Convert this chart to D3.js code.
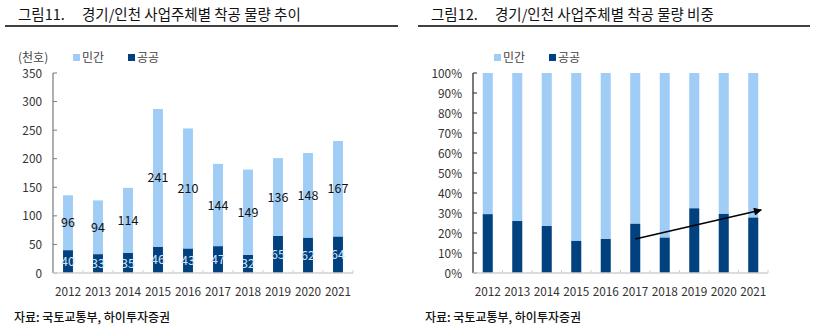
<!DOCTYPE html>
<html>
<head>
<meta charset="utf-8">
<script src="https://d3js.org/d3.v7.min.js"></script>
<style>
  body { margin: 0; background: #fff; }
  svg { font-family: "Noto Sans CJK KR", "Noto Sans", sans-serif; }
  .title { font-size: 14.5px; fill: #111; }
  .tick-label { font-size: 11.8px; fill: #333; }
  .legend { font-size: 12px; fill: #444; }
  .source { font-size: 12px; fill: #111; font-weight: 500; }
  .val { font-size: 12.5px; }
</style>
</head>
<body>
<svg id="chart" width="813" height="329"></svg>
<script>
// 경기/인천 착공 물량 (천호)
const years = ['2012','2013','2014','2015','2016','2017','2018','2019','2020','2021'];
const privateVals = [96, 94, 114, 241, 210, 144, 149, 136, 148, 167]; // 민간
const publicVals  = [40, 33, 35, 46, 43, 47, 32, 65, 62, 64];         // 공공
const volumeTicks = [0, 50, 100, 150, 200, 250, 300, 350];
const shareTicks  = d3.range(0, 1.01, 0.1);
// 공공 비중 추세 화살표 (연도, 비중)
const trendFrom = ['2017', 0.17];
const trendTo   = ['2021', 0.315];

const colPrivate = '#9fcdf6';
const colPublic  = '#02417f';

const svg = d3.select('#chart');

const rows = years.map((y, i) => ({
  year: y, pub: publicVals[i], priv: privateVals[i], total: publicVals[i] + privateVals[i]
}));

function header(x0, x1, label, text) {
  svg.append('text').attr('class', 'title').attr('x', x0 + 13).attr('y', 20).text(label);
  svg.append('text').attr('class', 'title').attr('x', x0 + 77).attr('y', 20).text(text);
  svg.append('line').attr('x1', x0).attr('x2', x1).attr('y1', 26).attr('y2', 26)
    .attr('stroke', '#000').attr('stroke-width', 1.6);
}

function legend(x, y) {
  const items = [['민간', colPrivate], ['공공', colPublic]];
  items.forEach((d, i) => {
    const gx = x + i * 55;
    svg.append('rect').attr('x', gx).attr('y', y - 8).attr('width', 7).attr('height', 7).attr('fill', d[1]);
    svg.append('text').attr('class', 'legend').attr('x', gx + 9).attr('y', y).text(d[0]);
  });
}

function xAxis(g, x, y0) {
  const [a, b] = x.range();
  g.append('line').attr('x1', a).attr('x2', b).attr('y1', y0).attr('y2', y0)
    .attr('stroke', '#d0d0d0').attr('stroke-width', 1.5);
  years.forEach((yr, i) => {
    if (i === 0) return;
    const tx = x(yr) - x.step() * x.paddingInner() / 2;
    g.append('line').attr('x1', tx).attr('x2', tx).attr('y1', y0).attr('y2', y0 - 3)
      .attr('stroke', '#d0d0d0');
  });
  g.append('line').attr('x1', b).attr('x2', b).attr('y1', y0).attr('y2', y0 - 3).attr('stroke', '#d0d0d0');
  g.selectAll('.xl').data(years).enter().append('text')
    .attr('class', 'tick-label')
    .attr('x', d => x(d) + x.bandwidth() / 2)
    .attr('y', y0 + 23)
    .attr('text-anchor', 'middle')
    .text(d => d);
}

function yAxis(g, y, x0, ticks, fmt, color) {
  const [b, t] = y.range();
  g.append('line').attr('x1', x0).attr('x2', x0).attr('y1', b).attr('y2', t)
    .attr('stroke', color).attr('stroke-width', 1.2);
  ticks.forEach(v => {
    g.append('line').attr('x1', x0).attr('x2', x0 + 4).attr('y1', y(v)).attr('y2', y(v))
      .attr('stroke', color);
    g.append('text').attr('class', 'tick-label')
      .attr('x', x0 - 11).attr('y', y(v) + 4.5)
      .attr('text-anchor', 'end').text(fmt(v));
  });
}

// ---------- 그림11: 착공 물량 추이 ----------
header(5, 398, '그림11.', '경기/인천 사업주체별 착공 물량 추이');
{
  const g = svg.append('g');
  const x = d3.scaleBand().domain(years).range([53, 353]).paddingInner(0.67).paddingOuter(0.335);
  const y = d3.scaleLinear().domain([0, 350]).range([273, 73]);

  svg.append('text').attr('class', 'legend').attr('x', 18).attr('y', 62).text('(천호)');
  legend(73, 62);

  yAxis(g, y, 53, volumeTicks, d3.format('d'), '#7a7a7a');

  g.selectAll('.pub').data(rows).enter().append('rect')
    .attr('x', d => x(d.year)).attr('width', x.bandwidth())
    .attr('y', d => y(d.pub)).attr('height', d => y(0) - y(d.pub))
    .attr('fill', colPublic);
  g.selectAll('.priv').data(rows).enter().append('rect')
    .attr('x', d => x(d.year)).attr('width', x.bandwidth())
    .attr('y', d => y(d.total)).attr('height', d => y(d.pub) - y(d.total))
    .attr('fill', colPrivate);

  xAxis(g, x, 273);

  g.selectAll('.lp').data(rows).enter().append('text')
    .attr('class', 'val')
    .attr('x', d => x(d.year) + x.bandwidth() / 2)
    .attr('y', d => (y(d.pub) + y(d.total)) / 2 + 4.5)
    .attr('text-anchor', 'middle').attr('fill', '#111')
    .text(d => d.priv);
  g.selectAll('.lb').data(rows).enter().append('text')
    .attr('class', 'val')
    .attr('x', d => x(d.year) + x.bandwidth() / 2)
    .attr('y', d => (y(0) + y(d.pub)) / 2 + 4.5)
    .attr('text-anchor', 'middle').attr('fill', '#cfe4f7')
    .text(d => d.pub);

  svg.append('text').attr('class', 'source').attr('x', 14).attr('y', 322).text('자료: 국토교통부, 하이투자증권');
}

// ---------- 그림12: 착공 물량 비중 ----------
header(418, 810, '그림12.', '경기/인천 사업주체별 착공 물량 비중');
{
  const g = svg.append('g');
  const x = d3.scaleBand().domain(years).range([473, 768]).paddingInner(0.66).paddingOuter(0.33);
  const y = d3.scaleLinear().domain([0, 1]).range([273, 73]);

  legend(494, 62);

  yAxis(g, y, 473, shareTicks, d3.format('.0%'), '#222');

  g.selectAll('.priv').data(rows).enter().append('rect')
    .attr('x', d => x(d.year)).attr('width', x.bandwidth())
    .attr('y', y(1)).attr('height', d => y(d.pub / d.total) - y(1))
    .attr('fill', colPrivate);
  g.selectAll('.pub').data(rows).enter().append('rect')
    .attr('x', d => x(d.year)).attr('width', x.bandwidth())
    .attr('y', d => y(d.pub / d.total)).attr('height', d => y(0) - y(d.pub / d.total))
    .attr('fill', colPublic);

  xAxis(g, x, 273);

  svg.append('defs').append('marker')
    .attr('id', 'arrow').attr('viewBox', '0 0 10 10').attr('refX', 9).attr('refY', 5)
    .attr('markerWidth', 10).attr('markerHeight', 8).attr('orient', 'auto')
    .attr('markerUnits', 'userSpaceOnUse')
    .append('path').attr('d', 'M0,0 L10,5 L0,10 z').attr('fill', '#000');
  const cx = d => x(d) + x.bandwidth() / 2;
  g.append('line')
    .attr('x1', cx(trendFrom[0])).attr('y1', y(trendFrom[1]))
    .attr('x2', cx(trendTo[0]) + x.step() * 0.27).attr('y2', y(trendTo[1]))
    .attr('stroke', '#000').attr('stroke-width', 1.3)
    .attr('marker-end', 'url(#arrow)');

  svg.append('text').attr('class', 'source').attr('x', 425).attr('y', 322).text('자료: 국토교통부, 하이투자증권');
}
</script>
</body>
</html>
